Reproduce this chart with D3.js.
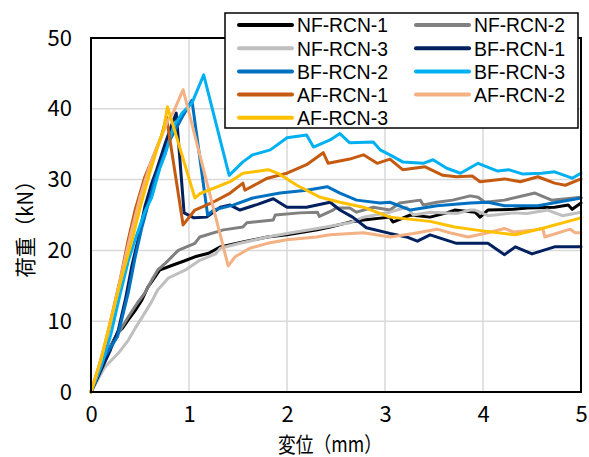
<!DOCTYPE html>
<html>
<head>
<meta charset="utf-8">
<script src="https://cdn.jsdelivr.net/npm/d3@7"></script>
<style>
  html, body { margin: 0; padding: 0; background: #fff; }
  svg { display: block; font-family: "Noto Sans CJK JP", "Noto Sans", sans-serif; }
</style>
</head>
<body>
<svg id="chart" width="589" height="457"></svg>
<script>
// Load–displacement curves, displacement (mm) vs load (kN)
const seriesNames = ["NF-RCN-1", "NF-RCN-2", "NF-RCN-3", "BF-RCN-1", "BF-RCN-2", "BF-RCN-3", "AF-RCN-1", "AF-RCN-2", "AF-RCN-3"];
const seriesColors = ["#000000", "#808080", "#BFBFBF", "#002060", "#0070C0", "#00B0F0", "#C55A11", "#F4B183", "#FFC000"];

const nfRcn1 = [[0,0],[0.1,3.5],[0.2,6.5],[0.27,8.3],[0.32,9.0],[0.38,10.2],[0.45,11.5],[0.52,13],[0.58,14.8],[0.65,16.2],[0.70,17.2],[0.83,17.9],[0.95,18.5],[1.06,19.1],[1.2,19.6],[1.32,20.5],[1.55,21.2],[1.8,21.9],[2.0,22.2],[2.31,22.9],[2.44,23.3],[2.64,24.0],[2.78,24.3],[3.05,24.7],[3.08,24.0],[3.26,25.0],[3.46,24.7],[3.63,25.3],[3.71,25.7],[3.92,25.4],[3.97,24.7],[4.05,25.7],[4.31,25.8],[4.45,26.0],[4.73,26.1],[4.87,26.4],[4.91,25.8],[5.0,26.7]];
const nfRcn2 = [[0,0],[0.1,3.5],[0.2,6.5],[0.3,8.8],[0.38,10.6],[0.47,12.5],[0.55,14],[0.62,15.8],[0.68,17.2],[0.76,18.2],[0.89,20],[1.06,21],[1.11,21.9],[1.35,22.9],[1.55,23.3],[1.59,23.9],[1.86,24.3],[1.88,25.0],[2.13,25.3],[2.31,25.4],[2.33,24.8],[2.47,25.7],[2.50,26.0],[2.64,26.0],[2.71,25.4],[2.88,26.1],[3.05,25.7],[3.15,26.7],[3.36,27.1],[3.39,26.4],[3.53,26.8],[3.69,27.1],[3.87,27.7],[3.95,27.5],[4.02,26.8],[4.22,27.1],[4.53,28.1],[4.70,27.1],[5.0,27.5]];
const nfRcn3 = [[0,0],[0.14,3.5],[0.28,5.5],[0.38,7.3],[0.46,9.2],[0.55,11.2],[0.62,12.8],[0.68,14.4],[0.79,16.1],[0.96,17.2],[1.11,18.6],[1.27,19.5],[1.32,20.3],[1.52,21],[1.8,21.9],[2.0,22.4],[2.31,23.1],[2.64,23.9],[2.78,24.7],[3.05,25.4],[3.22,26.1],[3.29,25.0],[3.46,25.4],[3.73,25.2],[3.87,25.7],[3.92,25.7],[4.05,24.9],[4.31,25.3],[4.45,25.2],[4.66,25.7],[4.81,24.9],[5.0,25.4]];
const bfRcn1 = [[0,0],[0.1,3],[0.2,6],[0.28,8.8],[0.35,13],[0.42,18],[0.48,21.5],[0.55,26.2],[0.62,29.5],[0.67,31.4],[0.76,35.2],[0.83,38],[0.87,39.4],[0.95,25.3],[1.05,24.6],[1.18,24.7],[1.32,26.1],[1.42,26.4],[1.52,25.7],[1.70,26.5],[1.86,27.3],[2.0,26.1],[2.2,26.1],[2.44,26.8],[2.54,25.7],[2.67,24.7],[2.81,23.2],[3.05,22.4],[3.22,21.9],[3.33,21.3],[3.46,22.2],[3.73,21.0],[4.05,21.0],[4.22,19.4],[4.33,20.5],[4.50,19.5],[4.73,20.5],[5.0,20.5]];
const bfRcn2 = [[0,0],[0.14,5],[0.27,7.8],[0.38,14],[0.45,19],[0.52,23.3],[0.65,29.9],[0.79,35.2],[0.93,38.8],[1.03,41.2],[1.19,25.0],[1.25,25.7],[1.45,26.4],[1.65,27.4],[1.93,28.1],[2.2,28.5],[2.41,29.0],[2.54,28.1],[2.71,27.1],[2.95,26.7],[3.05,26.8],[3.26,25.7],[3.53,26.3],[3.87,26.7],[4.05,26.8],[4.22,26.3],[4.56,26.3],[5.0,27.4]];
const bfRcn3 = [[0,0],[0.1,3.5],[0.2,8],[0.3,14],[0.38,18.5],[0.45,21.5],[0.55,25.5],[0.62,27.5],[0.7,31.5],[0.76,33.7],[0.84,37.4],[0.93,39.4],[1.03,40.8],[1.15,44.8],[1.41,30.6],[1.55,32.5],[1.65,33.5],[1.83,34.2],[2.0,35.9],[2.2,36.3],[2.27,34.6],[2.44,35.6],[2.54,36.5],[2.64,35.2],[2.88,35.3],[2.95,34.2],[3.05,33.5],[3.18,32.5],[3.39,32.3],[3.49,32.8],[3.63,31.6],[3.77,30.9],[3.95,32.3],[4.15,31.2],[4.26,31.4],[4.40,30.8],[4.60,30.9],[4.73,31.1],[4.91,30.2],[5.0,30.9]];
const afRcn1 = [[0,0],[0.07,3.1],[0.14,6.5],[0.21,10.6],[0.3,16],[0.38,21.5],[0.45,25.7],[0.55,30.4],[0.65,33.7],[0.72,36.2],[0.77,38.8],[0.94,23.6],[1.06,25.7],[1.23,26.7],[1.42,28.1],[1.55,29.5],[1.57,28.5],[1.80,30.2],[2.0,30.9],[2.2,32.1],[2.37,33.8],[2.42,32.3],[2.64,32.9],[2.78,33.5],[2.92,32.3],[3.05,32.9],[3.18,31.4],[3.41,31.8],[3.59,30.6],[3.73,30.4],[3.89,30.5],[3.97,29.7],[4.22,30.1],[4.38,29.7],[4.56,30.4],[4.73,29.5],[4.84,29.2],[5.0,30.1]];
const afRcn2 = [[0,0],[0.1,4.5],[0.2,10],[0.3,16],[0.4,22],[0.5,27.5],[0.6,32],[0.7,35.5],[0.79,38.5],[0.84,39.5],[0.94,42.7],[1.40,17.8],[1.47,19.1],[1.62,20.3],[1.80,21.0],[2.0,21.5],[2.3,21.9],[2.44,22.2],[2.78,22.5],[3.05,21.9],[3.29,22.4],[3.53,23.0],[3.66,22.5],[3.85,21.9],[4.05,22.5],[4.22,23.1],[4.31,22.6],[4.53,22.9],[4.61,23.1],[4.63,21.9],[4.89,23.0],[4.94,22.5],[5.0,22.5]];
const afRcn3 = [[0,0],[0.1,4.5],[0.2,10],[0.3,15.5],[0.42,21.5],[0.5,26],[0.6,31],[0.7,35.5],[0.74,37],[0.78,40.3],[1.06,27.4],[1.11,28.0],[1.42,29.7],[1.55,30.9],[1.81,31.4],[1.92,30.8],[2.1,29.2],[2.34,27.5],[2.54,26.8],[2.78,26.1],[3.05,24.7],[3.46,24.1],[3.71,23.3],[3.92,22.9],[4.33,22.2],[4.60,23.1],[5.0,24.6]];

const seriesData = [nfRcn1, nfRcn2, nfRcn3, bfRcn1, bfRcn2, bfRcn3, afRcn1, afRcn2, afRcn3];

const xTicks = [0, 1, 2, 3, 4, 5];
const yTicks = [0, 10, 20, 30, 40, 50];
const xTitle = "変位（mm）";
const yTitle = "荷重（kN）";

const svg = d3.select("#chart");
const plot = { left: 91, right: 581, top: 38, bottom: 392 };

const x = d3.scaleLinear().domain([0, 5]).range([plot.left, plot.right]);
const y = d3.scaleLinear().domain([0, 50]).range([plot.bottom, plot.top]);

// gridlines
const grid = svg.append("g");
grid.selectAll("line.gx").data(xTicks.slice(1, -1)).join("line")
  .attr("x1", d => x(d)).attr("x2", d => x(d))
  .attr("y1", plot.top).attr("y2", plot.bottom)
  .attr("stroke", "#D9D9D9").attr("stroke-width", 1.5);
grid.selectAll("line.gy").data(yTicks.slice(1, -1)).join("line")
  .attr("x1", plot.left).attr("x2", plot.right)
  .attr("y1", d => y(d)).attr("y2", d => y(d))
  .attr("stroke", "#D9D9D9").attr("stroke-width", 1.5);

// axes (labels only; frame drawn separately)
const xAxis = d3.axisBottom(x).tickValues(xTicks).tickSize(0).tickPadding(14).tickFormat(d3.format("d"));
const yAxis = d3.axisLeft(y).tickValues(yTicks).tickSize(0).tickPadding(19).tickFormat(d3.format("d"));

const gx = svg.append("g").attr("transform", `translate(0,${plot.bottom})`).call(xAxis);
const gy = svg.append("g").attr("transform", `translate(${plot.left},0)`).call(yAxis);
[gx, gy].forEach(g => {
  g.select(".domain").remove();
  g.selectAll("text").attr("font-size", 22).attr("fill", "#000")
    .attr("font-family", "'Noto Sans CJK JP', sans-serif");
});

// series lines
const line = d3.line().x(d => x(d[0])).y(d => y(d[1]));
svg.append("g").selectAll("path").data(seriesData).join("path")
  .attr("d", line)
  .attr("fill", "none")
  .attr("stroke", (d, i) => seriesColors[i])
  .attr("stroke-width", 3)
  .attr("stroke-linejoin", "round")
  .attr("stroke-linecap", "round");

// plot frame
svg.append("rect")
  .attr("x", plot.left).attr("y", plot.top)
  .attr("width", plot.right - plot.left).attr("height", plot.bottom - plot.top)
  .attr("fill", "none").attr("stroke", "#000").attr("stroke-width", 2);

// axis titles
svg.append("text").text(xTitle)
  .attr("x", 330).attr("y", 452)
  .attr("text-anchor", "middle").attr("font-size", 21)
  .attr("textLength", 104).attr("lengthAdjust", "spacingAndGlyphs");
svg.append("text").text(yTitle)
  .attr("transform", "translate(33,224) rotate(-90)")
  .attr("text-anchor", "middle").attr("font-size", 21)
  .attr("textLength", 107).attr("lengthAdjust", "spacingAndGlyphs");

// legend
const legend = svg.append("g");
legend.append("rect")
  .attr("x", 225).attr("y", 13).attr("width", 353).attr("height", 115)
  .attr("fill", "#fff").attr("stroke", "#000").attr("stroke-width", 1.5);
const rowY = r => 25 + r * 23.2;
const colX = [239, 416];
const items = legend.selectAll("g.item").data(seriesNames).join("g")
  .attr("transform", (d, i) => `translate(${colX[i % 2]},${rowY(Math.floor(i / 2))})`);
items.append("line")
  .attr("x1", 0).attr("x2", 53).attr("y1", 0).attr("y2", 0)
  .attr("stroke", (d, i) => seriesColors[i]).attr("stroke-width", 4)
  .attr("stroke-linecap", "round");
items.append("text").text(d => d)
  .attr("x", 58).attr("y", 0).attr("dy", "0.36em")
  .attr("font-family", "'Liberation Sans', Arial, sans-serif")
  .attr("font-size", 20.5)
  .attr("textLength", 91).attr("lengthAdjust", "spacingAndGlyphs");
</script>
</body>
</html>
